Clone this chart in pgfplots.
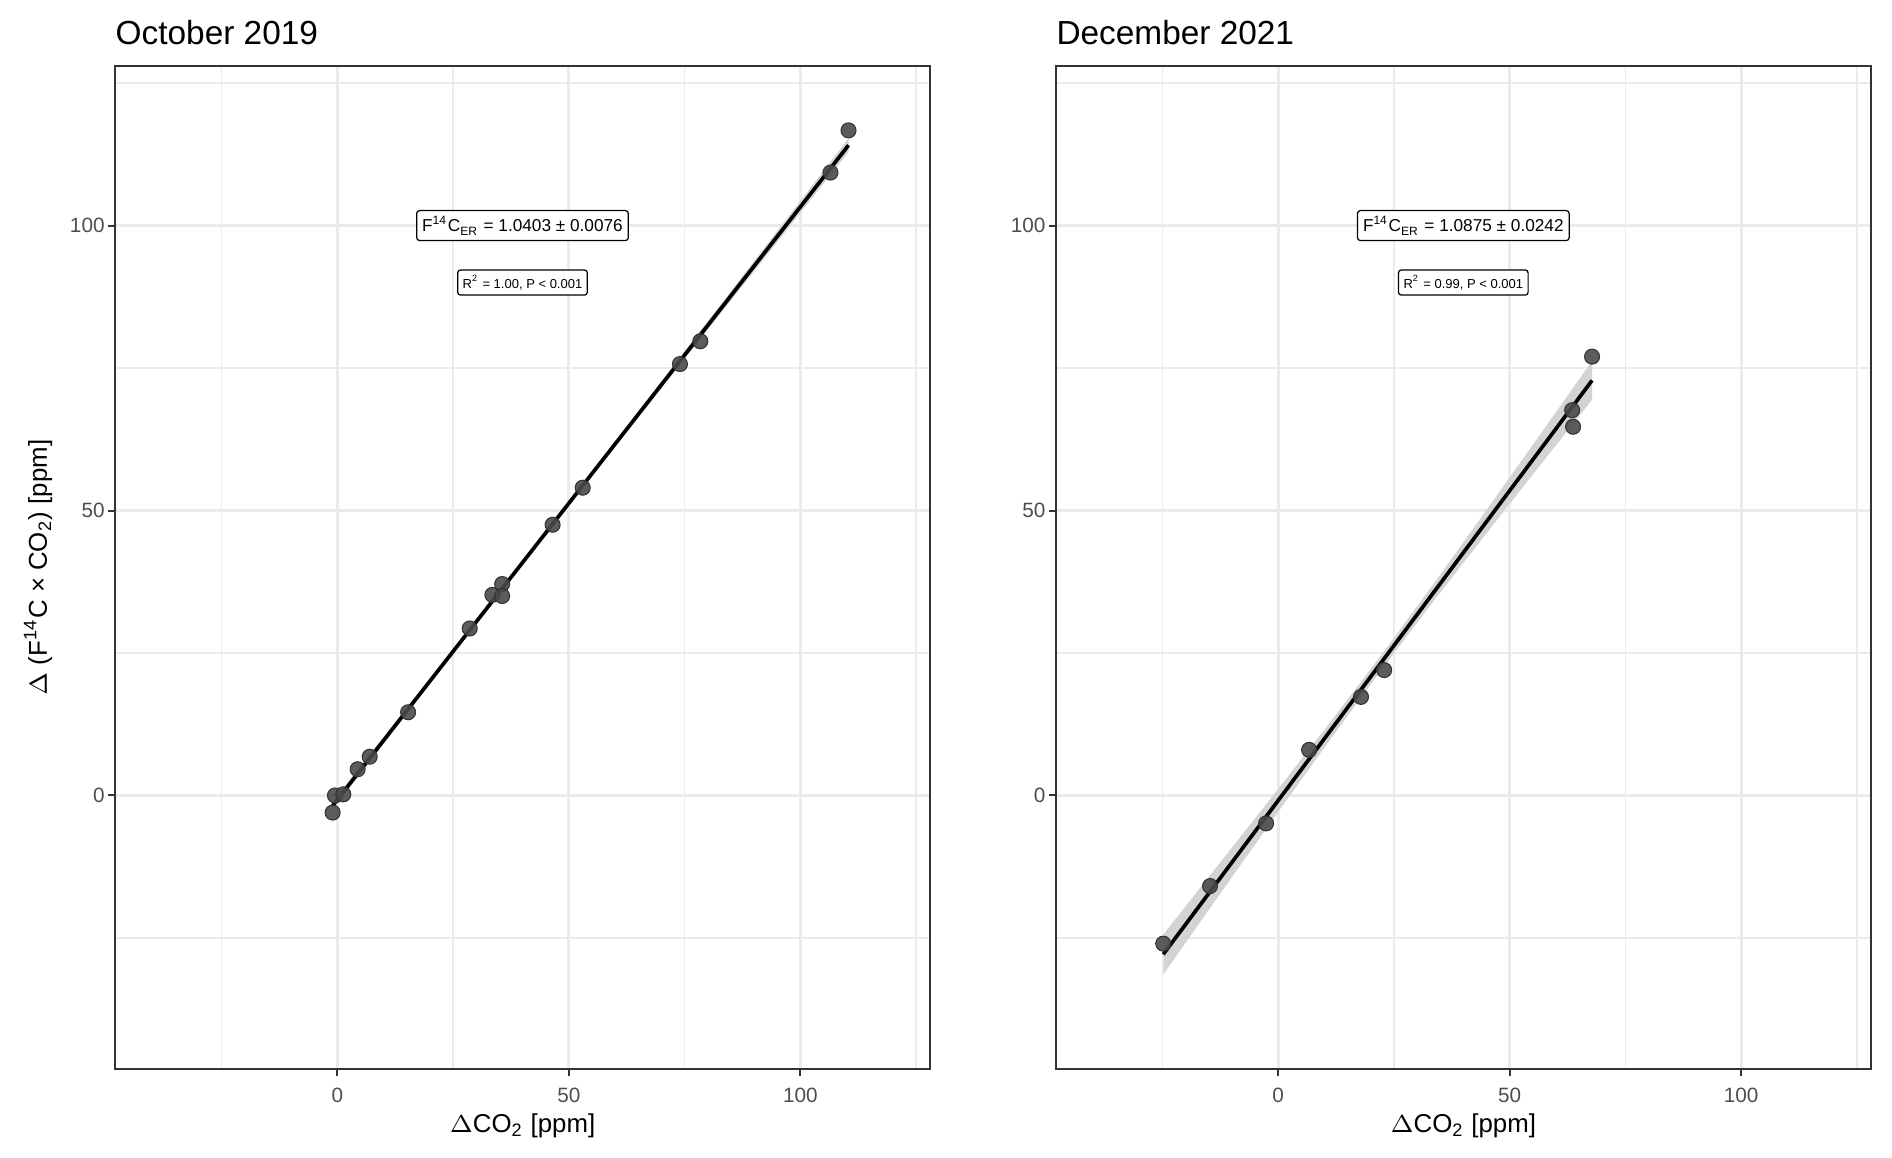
\documentclass[border=0pt]{standalone}
\usepackage{pgfplots}
\pgfplotsset{compat=1.18}
\usepackage{fontspec}
\setmainfont{Liberation Sans}
\definecolor{gTwenty}{HTML}{333333}
\definecolor{gThirty}{HTML}{4D4D4D}
\definecolor{gGrid}{HTML}{EBEBEB}
\definecolor{gBand}{HTML}{D3D3D3}
\definecolor{gPt}{HTML}{4A4A4A}

\pgfplotsset{
  panel/.style={
    scale only axis,
    width=81.5mm, height=100.3mm,
    xmin=-48, xmax=128, ymin=-48, ymax=128,
    xtick={0,50,100}, ytick={0,50,100},
    minor xtick={-25,25,75,125}, minor ytick={-25,25,75,125},
    grid=both,
    major grid style={gGrid, line width=0.85pt},
    minor grid style={gGrid, line width=0.42pt},
    minor tick length=0pt,
    major tick length=0.7mm,
    tick align=outside,
    tick pos=left,
    tick style={gTwenty, line width=0.57pt},
    axis line style={gTwenty, line width=0.57pt},
    /pgf/number format/assume math mode=true,
    tick label style={font=\fontsize{5.9}{7}\selectfont, text=gThirty},
    yticklabel style={xshift=0.9mm},
    clip=false,
  },
  pts/.style={only marks, mark=*, mark size=0.75mm,
    mark options={fill=gPt, draw=gTwenty, line width=0.3pt, fill opacity=0.9}},
  fit/.style={black, line width=1.05pt, no marks},
  band/.style={fill=gBand, draw=none, no marks},
}
\tikzset{
  annot/.style={draw=black, fill=white, rounded corners=0.8pt, line width=0.35pt, inner sep=0.55mm, text=black},
}

\begin{document}
\begin{tikzpicture}
\path[use as bounding box] (-11.5mm,-8.8mm) rectangle (177.7mm,106.9mm);

% ---------------- October 2019 ----------------
\begin{axis}[panel, at={(0,0)}, anchor=south west]
\addplot[band] coordinates {
 (-1,-2.53) (20,19.59) (39.3,39.78) (60,61.19) (85,86.86) (110.4,112.9)
 (110.4,115.3) (85,88.50) (60,62.15) (39.3,40.48) (20,20.53) (-1,-1.05)} -- cycle;
\addplot[fit] coordinates {(-1,-1.79) (110.4,114.10)};
\addplot[pts] coordinates {
 (-1.0,-3.0) (-0.5,0.0) (1.3,0.2) (4.4,4.6) (7.0,6.8) (15.3,14.6)
 (28.6,29.3) (33.5,35.2) (35.6,37.1) (35.6,35.0) (46.5,47.5) (53.0,54.0)
 (74.0,75.7) (78.4,79.7) (106.5,109.3) (110.4,116.7)};
\node[annot, font=\fontsize{4.9}{6}\selectfont] at (axis cs:40,100)
  {F\textsuperscript{14}C\textsubscript{ER} = 1.0403 ± 0.0076};
\node[annot, font=\fontsize{3.7}{4.5}\selectfont, inner sep=0.5mm] at (axis cs:40,90)
  {R\textsuperscript{2} = 1.00, P < 0.001};
\node[anchor=base west, font=\fontsize{9.5}{11}\selectfont, inner sep=0pt]
  at ([yshift=2.15mm]rel axis cs:0,1) {October 2019};
\node[anchor=base, font=\fontsize{7.35}{9}\selectfont, inner sep=0pt]
  at ([yshift=-6.3mm]rel axis cs:0.5,0) {$\Delta$CO\textsubscript{2} [ppm]};
\node[anchor=base, rotate=90, font=\fontsize{7.35}{9}\selectfont, inner sep=0pt]
  at ([xshift=-6.8mm]rel axis cs:0,0.5) {$\Delta$ (F\textsuperscript{14}C × CO\textsubscript{2}) [ppm]};
\end{axis}

% ---------------- December 2021 ----------------
\begin{axis}[panel, at={(94.08mm,0)}, anchor=south west]
\addplot[band] coordinates {
 (-24.8,-31.4) (-12,-16.65) (0,-2.91) (11,9.54) (22.3,22.05) (34,34.55) (45,46.0) (56,57.34) (67.8,69.43)
 (67.8,76.23) (56,62.66) (45,50.08) (34,37.61) (22.3,24.65) (11,12.58) (0,1.11) (-12,-11.25) (-24.8,-24.4)} -- cycle;
\addplot[fit] coordinates {(-24.8,-27.87) (67.8,72.83)};
\addplot[pts] coordinates {
 (-24.8,-26.0) (-14.7,-15.9) (-2.6,-4.9) (6.7,8.0) (17.9,17.3) (22.9,22.0)
 (63.5,67.6) (63.7,64.7) (67.8,77.0)};
\node[annot, font=\fontsize{4.9}{6}\selectfont] at (axis cs:40,100)
  {F\textsuperscript{14}C\textsubscript{ER} = 1.0875 ± 0.0242};
\node[annot, font=\fontsize{3.7}{4.5}\selectfont, inner sep=0.5mm] at (axis cs:40,90)
  {R\textsuperscript{2} = 0.99, P < 0.001};
\node[anchor=base west, font=\fontsize{9.5}{11}\selectfont, inner sep=0pt]
  at ([yshift=2.15mm]rel axis cs:0,1) {December 2021};
\node[anchor=base, font=\fontsize{7.35}{9}\selectfont, inner sep=0pt]
  at ([yshift=-6.3mm]rel axis cs:0.5,0) {$\Delta$CO\textsubscript{2} [ppm]};
\end{axis}
\end{tikzpicture}
\end{document}
